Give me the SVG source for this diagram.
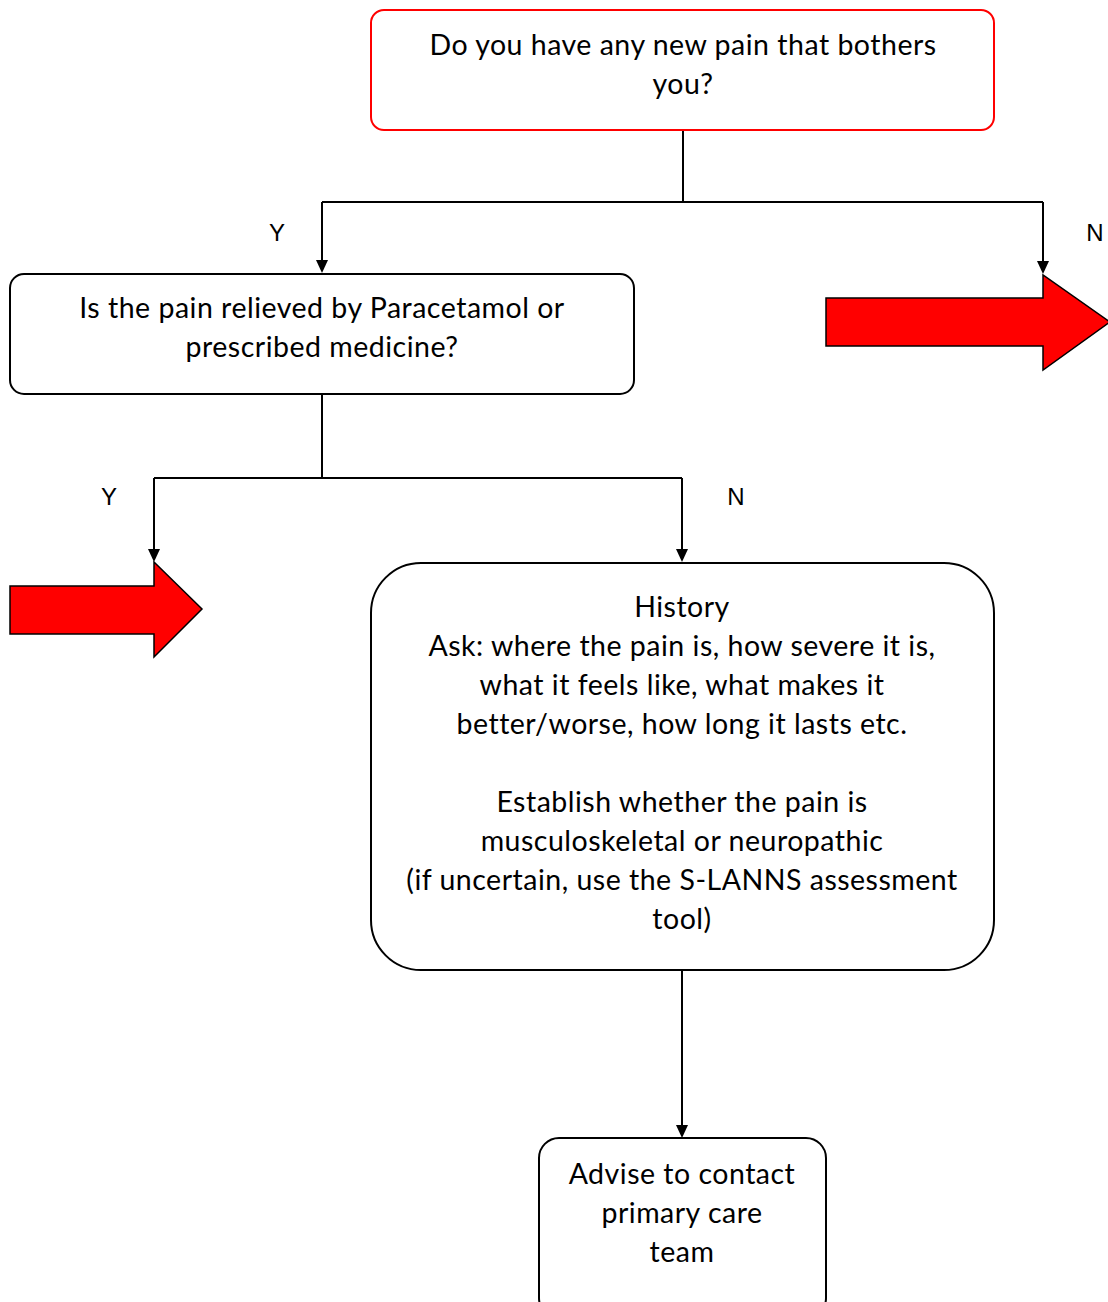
<svg xmlns="http://www.w3.org/2000/svg" width="1108" height="1302" viewBox="0 0 1108 1302">
  <style>
    .box { fill: #ffffff; stroke: #000000; stroke-width: 2; }
    .box-red { fill: #ffffff; stroke: #ff0000; stroke-width: 2; }
    .txt { font-family: Lato, "Liberation Sans", sans-serif; font-size: 28.5px; letter-spacing: 0.5px; fill: #000000; text-anchor: middle; }
    .lbl { font-family: "Liberation Sans", Arial, sans-serif; font-size: 24px; fill: #000000; text-anchor: middle; }
    .wire { fill: none; stroke: #000000; stroke-width: 2; }
    .head { fill: #000000; }
    .bigarrow { fill: #ff0000; stroke: #000000; stroke-width: 1.5; }
  </style>

  <g id="connectors">
    <path class="wire" d="M683 130 V202"/>
    <path class="wire" d="M322 202 H1043"/>
    <path class="wire" d="M322 202 V262"/>
    <path class="wire" d="M1043 202 V262"/>
    <path class="head" d="M316 260 L328 260 L322 273 Z"/>
    <path class="head" d="M1037 261 L1049 261 L1043 274 Z"/>
    <path class="wire" d="M322 394 V478"/>
    <path class="wire" d="M154 478 H682"/>
    <path class="wire" d="M154 478 V550"/>
    <path class="wire" d="M682 478 V550"/>
    <path class="head" d="M148 549 L160 549 L154 562 Z"/>
    <path class="head" d="M676 549 L688 549 L682 562 Z"/>
    <path class="wire" d="M682 970 V1126"/>
    <path class="head" d="M676 1125 L688 1125 L682 1138 Z"/>
    <text class="lbl" x="277" y="241">Y</text>
    <text class="lbl" x="1095" y="241">N</text>
    <text class="lbl" x="109" y="505">Y</text>
    <text class="lbl" x="736" y="505">N</text>
  </g>

  <g id="arrow-no-pain">
    <path class="bigarrow" d="M826 298 H1043 V275 L1110 322 L1043 370 V346 H826 Z"/>
  </g>

  <g id="arrow-relieved">
    <path class="bigarrow" d="M10 586 H154 V562 L202 609 L154 657 V634 H10 Z"/>
  </g>

  <g id="q-new-pain">
    <rect class="box-red" x="371" y="10" width="623" height="120" rx="13"/>
    <text class="txt" x="683" y="55">Do you have any new pain that bothers</text>
    <text class="txt" x="683" y="94">you?</text>
  </g>

  <g id="q-relieved">
    <rect class="box" x="10" y="274" width="624" height="120" rx="14"/>
    <text class="txt" x="322" y="318">Is the pain relieved by Paracetamol or</text>
    <text class="txt" x="322" y="357">prescribed medicine?</text>
  </g>

  <g id="history">
    <rect class="box" x="371" y="563" width="623" height="407" rx="50"/>
    <text class="txt" x="682" y="617">History</text>
    <text class="txt" x="682" y="656">Ask: where the pain is, how severe it is,</text>
    <text class="txt" x="682" y="695">what it feels like, what makes it</text>
    <text class="txt" x="682" y="734">better/worse, how long it lasts etc.</text>
    <text class="txt" x="682" y="812">Establish whether the pain is</text>
    <text class="txt" x="682" y="851">musculoskeletal or neuropathic</text>
    <text class="txt" x="682" y="890">(if uncertain, use the S-LANNS assessment</text>
    <text class="txt" x="682" y="929">tool)</text>
  </g>

  <g id="advise-primary-care">
    <rect class="box" x="539" y="1138" width="287" height="180" rx="20"/>
    <text class="txt" x="682" y="1184">Advise to contact</text>
    <text class="txt" x="682" y="1223">primary care</text>
    <text class="txt" x="682" y="1262">team</text>
  </g>
</svg>
